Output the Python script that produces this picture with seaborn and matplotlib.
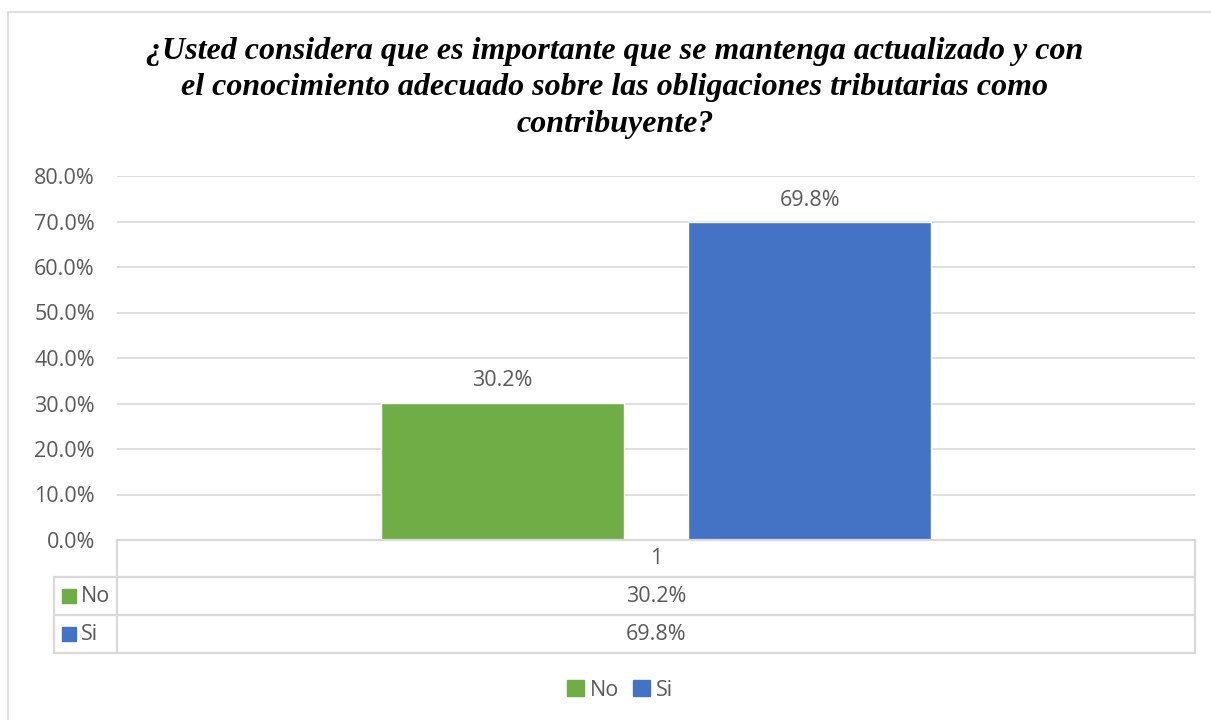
import seaborn as sns
import numpy as np
import pandas as pd
import matplotlib.pyplot as plt
from matplotlib.patches import Patch, Rectangle

# ----- data -----
series = ["No", "Si"]
values = [30.2, 69.8]
group = ["1", "1"]
colors = ["#70AD47", "#4472C4"]
title = ("¿Usted considera que es importante que se mantenga actualizado y con\n"
         "el conocimiento adecuado sobre las obligaciones tributarias como\n"
         "contribuyente?")
yticks = np.arange(0, 81, 10)

df = pd.DataFrame({"grupo": group, "serie": series, "valor": values})

sns.set_style("white")
plt.rcParams["font.family"] = ["Open Sans", "DejaVu Sans"]
txt = "#595959"
grid = "#D9D9D9"
fs = 15.5

W, H = 1211, 720
fig = plt.figure(figsize=(W / 100, H / 100), dpi=100)

def fx(px):
    return px / W

def fy(py):
    return 1 - py / H

# outer chart frame
fig.patches.append(Rectangle((fx(8), fy(760)), fx(1300), fy(12) - fy(760),
                             transform=fig.transFigure, fill=False,
                             edgecolor=grid, lw=1.2))

# ----- bars -----
ax = fig.add_axes([fx(117), fy(540), fx(1195) - fx(117), fy(176) - fy(540)])
sns.barplot(data=df, x="grupo", y="valor", hue="serie", palette=colors,
            width=0.57, gap=0.21, legend=False, ax=ax, saturation=1)
ax.set_ylim(0, 80)
ax.set_xlim(-0.5, 0.5)
ax.set_yticks(yticks)
ax.set_yticklabels([f"{v:.1f}%" for v in yticks], color=txt, fontsize=fs)
ax.set_xticks([])
ax.set_xlabel("")
ax.set_ylabel("")
ax.yaxis.grid(True, color=grid, lw=1.2)
ax.set_axisbelow(True)
ax.tick_params(axis="y", length=0, pad=16)
for s in ["top", "right", "left"]:
    ax.spines[s].set_visible(False)
ax.spines["bottom"].set_color(grid)
ax.spines["bottom"].set_linewidth(1.2)
for c in ax.containers:
    ax.bar_label(c, labels=[f"{v:.1f}%" for v in c.datavalues], padding=8,
                 color=txt, fontsize=fs)

fig.text(fx(615), fy(88), title, ha="center", va="center", fontsize=23,
         family="Liberation Serif", weight="bold", style="italic",
         color="black", linespacing=1.36)

# ----- data table -----
tx0, tx1, ty0, ty1 = 54, 1195, 540, 653
tax = fig.add_axes([fx(tx0), fy(ty1), fx(tx1) - fx(tx0), fy(ty0) - fy(ty1)])
tax.set_xlim(tx0, tx1)
tax.set_ylim(ty1, ty0)
tax.axis("off")
rows = [540, 577, 615, 653]
col = 117
lk = dict(color=grid, lw=1.6, clip_on=False)
tax.plot([col, tx1], [rows[0], rows[0]], **lk)
for r in rows[1:]:
    tax.plot([tx0, tx1], [r, r], **lk)
tax.plot([col, col], [rows[0], rows[-1]], **lk)
tax.plot([tx1, tx1], [rows[0], rows[-1]], **lk)
tax.plot([tx0, tx0], [rows[1], rows[-1]], **lk)
mid = (col + tx1) / 2
tax.text(mid, (rows[0] + rows[1]) / 2, group[0], ha="center", va="center",
         color=txt, fontsize=fs)
for i, (s, v, c) in enumerate(zip(series, values, colors)):
    yc = (rows[i + 1] + rows[i + 2]) / 2
    tax.add_patch(Rectangle((62, yc - 7), 14, 14, color=c, clip_on=False))
    tax.text(81, yc, s, ha="left", va="center", color=txt, fontsize=fs)
    tax.text(mid, yc, f"{v:.1f}%", ha="center", va="center", color=txt,
             fontsize=fs)

# ----- legend -----
handles = [Patch(color=c, label=s) for s, c in zip(series, colors)]
fig.legend(handles=handles, loc="center", bbox_to_anchor=(fx(620), fy(690)),
           ncol=2, frameon=False, fontsize=fs, handlelength=0.8,
           handleheight=0.8, handletextpad=0.3, columnspacing=0.6,
           labelcolor=txt)

fig.savefig("out.png", dpi=100)
